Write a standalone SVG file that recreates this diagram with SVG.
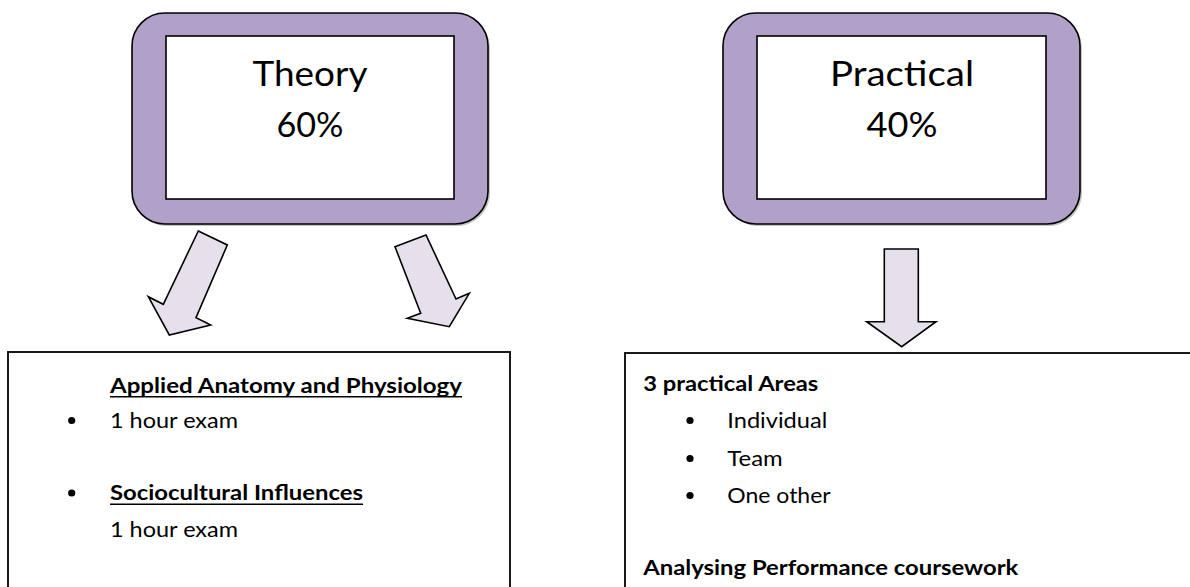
<svg xmlns="http://www.w3.org/2000/svg" width="1190" height="587" viewBox="0 0 1190 587">
<style>
.outer{fill:#B1A1C8;stroke:#000;stroke-width:1.6}
.shadow{fill:#7f7f7f;opacity:0.45}
.inner{fill:#fff;stroke:#000;stroke-width:1.6}
.title{font-family:Lato,"Liberation Sans",sans-serif;font-size:34px;fill:#000;text-anchor:middle}
.arrow{fill:#E5E0EC;stroke:#000;stroke-width:1.6;stroke-linejoin:miter}
.tbox{fill:#fff;stroke:#1a1a1a;stroke-width:2}
.t{font-family:Lato,"Liberation Sans",sans-serif;font-size:21px;fill:#000}
.b{font-weight:bold}
.ul{stroke:#000;stroke-width:1.6}
.dot{fill:#000}
</style>
<g id="theory">
<rect class="shadow" x="134" y="15" width="356" height="211" rx="33"/>
<rect class="outer" x="132" y="13" width="356" height="211" rx="33"/>
<rect class="inner" x="166" y="36" width="288" height="163"/>
<text class="title" x="310" y="86" textLength="115" lengthAdjust="spacingAndGlyphs">Theory</text>
<text class="title" x="310" y="137" textLength="67" lengthAdjust="spacingAndGlyphs">60%</text>
</g>
<g id="practical">
<rect class="shadow" x="725" y="15" width="357" height="211" rx="33"/>
<rect class="outer" x="723" y="13" width="357" height="211" rx="33"/>
<rect class="inner" x="757" y="36" width="289" height="163"/>
<text class="title" x="902" y="86" textLength="144" lengthAdjust="spacingAndGlyphs">Practical</text>
<text class="title" x="902" y="137" textLength="71" lengthAdjust="spacingAndGlyphs">40%</text>
</g>
<g id="connectors">
<polygon class="arrow" points="198.3,231 227.3,245 196,317.7 210.7,325 169.3,335 148.3,296.7 163.3,304.3"/>
<polygon class="arrow" points="395,246.7 426,235 456,299 469.3,293.3 449.3,326.7 407.3,318.3 420.7,313.3"/>
<polygon class="arrow" points="884.3,249 918.3,249 918.3,321.7 936,321.7 901.7,346.7 866.7,321.7 884.3,321.7"/>
</g>
<g id="theory-details">
<rect class="tbox" x="8" y="352" width="502" height="260"/>
<text class="t b" x="110" y="392.5" textLength="352" lengthAdjust="spacingAndGlyphs">Applied Anatomy and Physiology</text>
<line class="ul" x1="110" y1="396.8" x2="462" y2="396.8"/>
<circle class="dot" cx="71.7" cy="420.5" r="3.6"/>
<text class="t" x="110" y="428" textLength="128" lengthAdjust="spacingAndGlyphs">1 hour exam</text>
<circle class="dot" cx="71.7" cy="493" r="3.6"/>
<text class="t b" x="110" y="500" textLength="253" lengthAdjust="spacingAndGlyphs">Sociocultural Influences</text>
<line class="ul" x1="110" y1="504.3" x2="363" y2="504.3"/>
<text class="t" x="110" y="536.7" textLength="128" lengthAdjust="spacingAndGlyphs">1 hour exam</text>
</g>
<g id="practical-details">
<rect class="tbox" x="625" y="353" width="600" height="260"/>
<text class="t b" x="643.3" y="390.7" textLength="175" lengthAdjust="spacingAndGlyphs">3 practical Areas</text>
<circle class="dot" cx="690" cy="420.5" r="3.6"/>
<text class="t" x="727.3" y="427.7" textLength="100" lengthAdjust="spacingAndGlyphs">Individual</text>
<circle class="dot" cx="690" cy="458.5" r="3.6"/>
<text class="t" x="727.3" y="466" textLength="55.4" lengthAdjust="spacingAndGlyphs">Team</text>
<circle class="dot" cx="690" cy="495.5" r="3.6"/>
<text class="t" x="727.3" y="502.7" textLength="103.4" lengthAdjust="spacingAndGlyphs">One other</text>
<text class="t b" x="643.3" y="575" textLength="375" lengthAdjust="spacingAndGlyphs">Analysing Performance coursework</text>
</g>
</svg>
